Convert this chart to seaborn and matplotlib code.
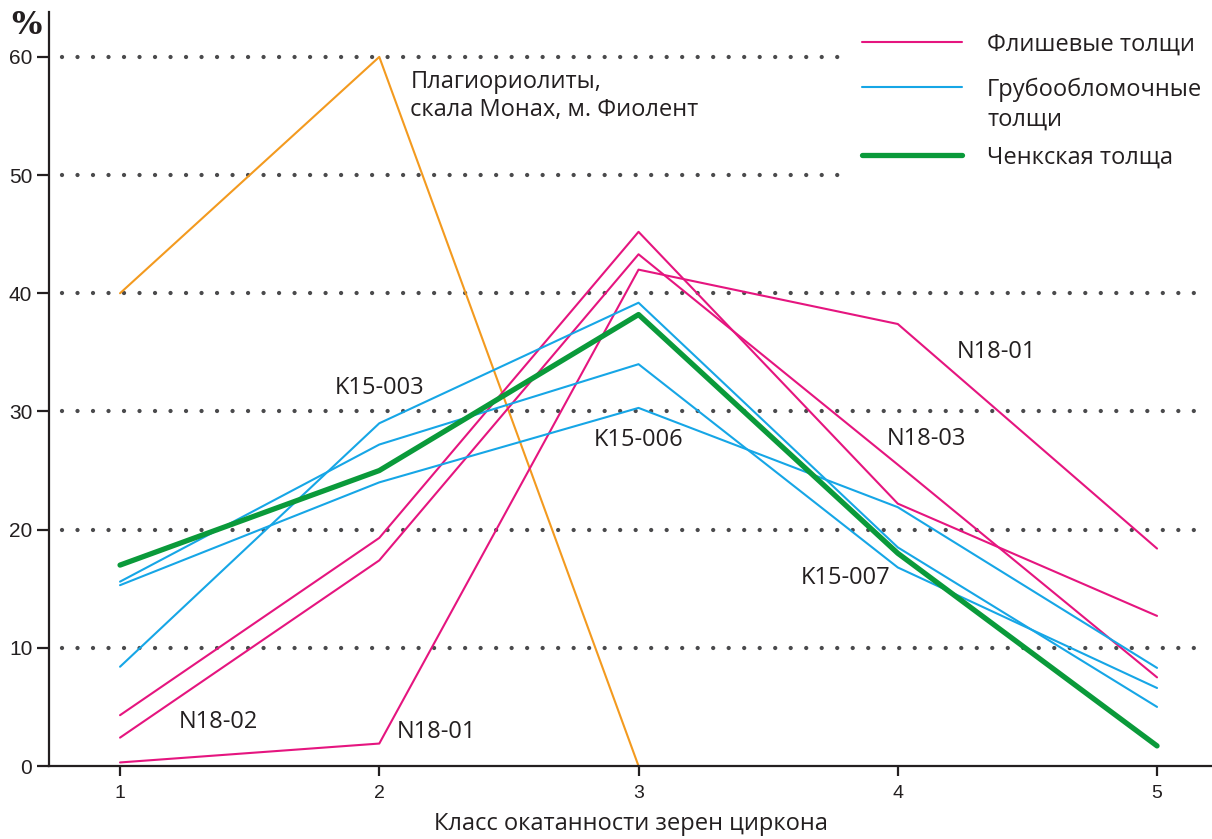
import matplotlib
matplotlib.use("Agg")
import matplotlib.pyplot as plt
import seaborn as sns
import pandas as pd

## data ##
classes = [1, 2, 3, 4, 5]

# flysch sequences (pink)
n18_01 = [0.3, 1.9, 42.0, 37.4, 18.4]
n18_02 = [4.3, 19.3, 45.2, 22.2, 12.7]
n18_03 = [2.4, 17.4, 43.3, 25.5, 7.5]

# coarse clastic sequences (blue)
k15_003 = [8.4, 29.0, 39.2, 18.5, 5.0]
k15_007 = [15.6, 27.2, 34.0, 16.8, 6.6]
k15_006 = [15.3, 24.0, 30.3, 21.9, 8.3]

# Chenka sequence (green)
chenka = [17.0, 25.0, 38.2, 18.0, 1.7]

# plagiorhyolites (orange)
plagio_classes = [1, 2, 3]
plagio = [40, 60, 0]

grid_levels = [10, 20, 30, 40, 50, 60]
legend_labels = ["Флишевые толщи", "Грубообломочные\nтолщи", "Ченкская толща"]

PINK = "#E5157F"
BLUE = "#16A6E6"
GREEN = "#0A9A3A"
ORANGE = "#F39A1F"
DARK = "#231F20"

sns.set_theme(style="white")
plt.rcParams["font.family"] = ["Open Sans", "DejaVu Sans"]

fig = plt.figure(figsize=(12.12, 8.39), dpi=100)
ax = fig.add_axes([49 / 1212, 73 / 839, 1 - 49 / 1212, (766 - 12) / 839])

# dotted grid
for g in grid_levels:
    x_end = 3.77 if g >= 50 else 5.2
    ax.plot([0.776, x_end], [g, g], color="#4A4A4C", lw=3.1,
            linestyle=(0, (0.001, 3.6)), dash_capstyle="round", zorder=1)

# lines
sns.lineplot(x=plagio_classes, y=plagio, ax=ax, color=ORANGE, lw=1.5, zorder=2)
for series in [n18_01, n18_02, n18_03]:
    sns.lineplot(x=classes, y=series, ax=ax, color=PINK, lw=1.5, zorder=3)
for series in [k15_003, k15_007, k15_006]:
    sns.lineplot(x=classes, y=series, ax=ax, color=BLUE, lw=1.5, zorder=3)
sns.lineplot(x=classes, y=chenka, ax=ax, color=GREEN, lw=3.8, zorder=4)

# sample labels
lab_kw = dict(fontsize=17, color=DARK, ha="center", va="center")
ax.text(2.0, 32.0, "K15-003", **lab_kw)
ax.text(3.0, 27.6, "K15-006", **lab_kw)
ax.text(3.8, 15.9, "K15-007", **lab_kw)
ax.text(4.38, 35.0, "N18-01", **lab_kw)
ax.text(4.11, 27.7, "N18-03", **lab_kw)
ax.text(1.38, 3.7, "N18-02", **lab_kw)
ax.text(2.22, 2.9, "N18-01", **lab_kw)
ax.text(2.12, 58.9, "Плагиориолиты,\nскала Монах, м. Фиолент", fontsize=17,
        color=DARK, ha="left", va="top", linespacing=1.22)

# legend drawn by hand so the handle sits on the first text line
def ax_xy(px, py):
    return (px - 49) / 1163, (766 - py) / 754

for (py, col, lw), lab in zip([(42, PINK, 1.5), (87, BLUE, 1.5), (155, GREEN, 3.8)],
                              legend_labels):
    x0, y0 = ax_xy(862, py)
    x1, _ = ax_xy(962, py)
    ax.plot([x0, x1], [y0, y0], color=col, lw=lw, transform=ax.transAxes,
            clip_on=False)
    tx, ty = ax_xy(987, py - 9)
    ax.text(tx, ty, lab, transform=ax.transAxes, fontsize=17, color=DARK,
            ha="left", va="top", linespacing=1.3)

# axes styling
ax.set_xlim(0.726, 5.212)
ax.set_ylim(0, 63.8)
ax.set_xticks(classes)
ax.set_yticks([0, 10, 20, 30, 40, 50, 60])
for side in ["top", "right"]:
    ax.spines[side].set_visible(False)
for side in ["left", "bottom"]:
    ax.spines[side].set_color(DARK)
    ax.spines[side].set_linewidth(1.6)
ax.tick_params(axis="y", direction="out", length=9, width=1.6, color=DARK,
               pad=3, labelsize=15, labelcolor=DARK, left=True)
ax.tick_params(axis="x", direction="out", length=7, width=1.6, color=DARK,
               pad=7, labelsize=14, labelcolor=DARK, bottom=True)
for t in ax.get_xticklabels() + ax.get_yticklabels():
    t.set_family(["Liberation Sans", "DejaVu Sans"])
ax.set_xlabel("Класс окатанности зерен циркона", fontsize=17, color=DARK,
              labelpad=7)
ax.set_ylabel("")
ax.grid(False)

fig.text(26 / 1212, 1 - 26 / 839, "%", fontsize=23, fontweight="bold",
         family=["DejaVu Serif"], color=DARK, ha="center", va="center")

fig.savefig("out.png", dpi=100)
